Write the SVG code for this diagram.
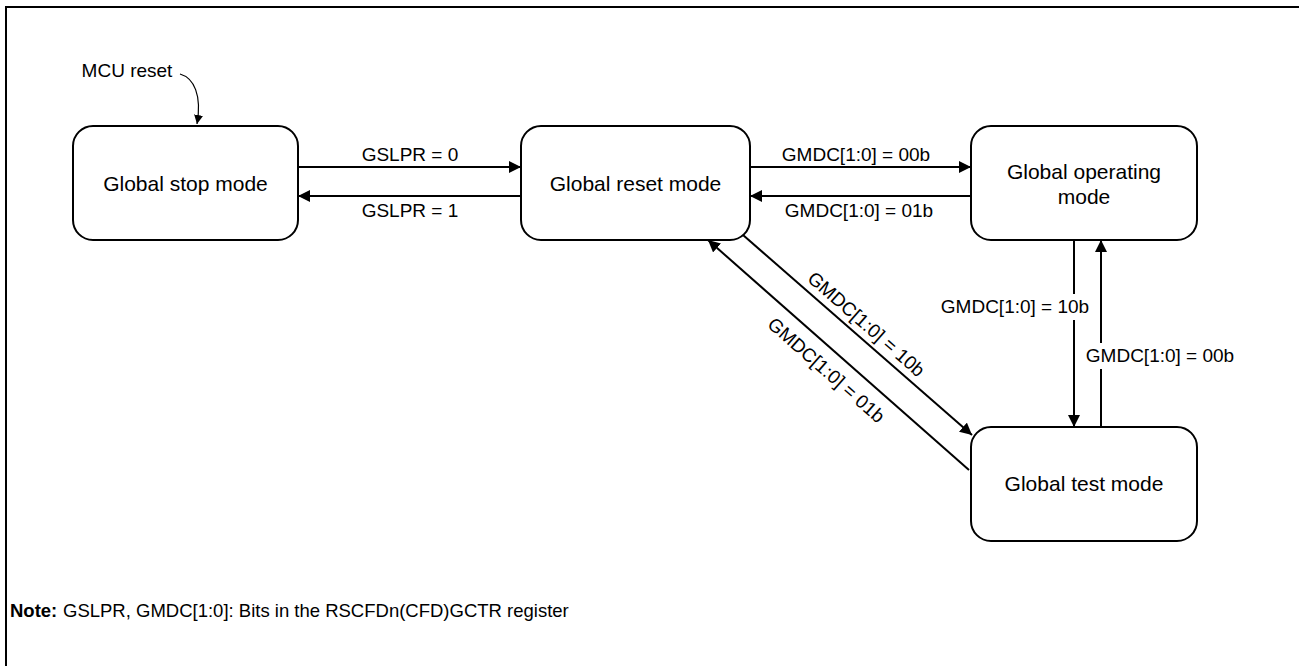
<svg xmlns="http://www.w3.org/2000/svg" width="1299" height="666" viewBox="0 0 1299 666">
  <style>
    .frame { fill: none; stroke: #000; stroke-width: 2; }
    .node { fill: #fff; stroke: #000; stroke-width: 2; }
    .ntext { font-family: "Liberation Sans", Arial, sans-serif; font-size: 21px; fill: #000; text-anchor: middle; }
    .lbl { font-family: "Liberation Sans", Arial, sans-serif; font-size: 19px; fill: #000; text-anchor: middle; }
    .conn { fill: none; stroke: #000; stroke-width: 2; }
    .thin { fill: none; stroke: #000; stroke-width: 1.2; }
    .note { font-family: "Liberation Sans", Arial, sans-serif; font-size: 18.5px; fill: #000; }
  </style>
  <defs>
    <marker id="arr" viewBox="0 0 12 12" refX="12" refY="6" markerWidth="12" markerHeight="12" markerUnits="userSpaceOnUse" orient="auto">
      <path d="M0,0 L12,6 L0,12 Z" fill="#000"/>
    </marker>
    <marker id="arrs" viewBox="0 0 10 10" refX="10" refY="5" markerWidth="9" markerHeight="9" markerUnits="userSpaceOnUse" orient="auto">
      <path d="M0,0 L10,5 L0,10 Z" fill="#000"/>
    </marker>
  </defs>

  <rect class="frame" x="6" y="7" width="1300" height="670"/>

  <g id="connectors">
    <path class="thin" d="M180,74 C194,78 202,95 197,124" marker-end="url(#arrs)"/>
    <line class="conn" x1="298" y1="167" x2="521" y2="167" marker-end="url(#arr)"/>
    <line class="conn" x1="521" y1="196" x2="298" y2="196" marker-end="url(#arr)"/>
    <line class="conn" x1="750" y1="167" x2="971" y2="167" marker-end="url(#arr)"/>
    <line class="conn" x1="971" y1="196" x2="750" y2="196" marker-end="url(#arr)"/>
    <line class="conn" x1="1074" y1="240" x2="1074" y2="427" marker-end="url(#arr)"/>
    <line class="conn" x1="1101" y1="427" x2="1101" y2="240" marker-end="url(#arr)"/>
    <line class="conn" x1="743" y1="235" x2="972" y2="435" marker-end="url(#arr)"/>
    <line class="conn" x1="969" y1="470" x2="708" y2="240" marker-end="url(#arr)"/>

    <text class="lbl" x="127" y="77">MCU reset</text>
    <text class="lbl" x="410" y="161">GSLPR = 0</text>
    <text class="lbl" x="410" y="217">GSLPR = 1</text>
    <text class="lbl" x="856" y="161">GMDC[1:0] = 00b</text>
    <text class="lbl" x="859" y="217">GMDC[1:0] = 01b</text>
    <rect x="942" y="294" width="145" height="26" fill="#fff"/>
    <text class="lbl" x="1015" y="313">GMDC[1:0] = 10b</text>
    <rect x="1087" y="343" width="146" height="26" fill="#fff"/>
    <text class="lbl" x="1160" y="362">GMDC[1:0] = 00b</text>
    <text class="lbl" x="862" y="329" transform="rotate(41.2 862 329)">GMDC[1:0] = 10b</text>
    <text class="lbl" x="822" y="375" transform="rotate(41.4 822 375)">GMDC[1:0] = 01b</text>
  </g>

  <g id="stop">
    <rect class="node" x="73" y="126" width="225" height="114" rx="20"/>
    <text class="ntext" x="185.5" y="191">Global stop mode</text>
  </g>
  <g id="reset">
    <rect class="node" x="521" y="126" width="229" height="114" rx="20"/>
    <text class="ntext" x="635.5" y="191">Global reset mode</text>
  </g>
  <g id="operating">
    <rect class="node" x="971" y="126" width="226" height="114" rx="20"/>
    <text class="ntext" x="1084" y="179">Global operating</text>
    <text class="ntext" x="1084" y="204">mode</text>
  </g>
  <g id="test">
    <rect class="node" x="971" y="427" width="226" height="114" rx="20"/>
    <text class="ntext" x="1084" y="491">Global test mode</text>
  </g>

  <g id="note">
    <text class="note" x="10" y="617" font-weight="bold">Note:</text>
    <text class="note" x="63" y="617">GSLPR, GMDC[1:0]: Bits in the RSCFDn(CFD)GCTR register</text>
  </g>
</svg>
